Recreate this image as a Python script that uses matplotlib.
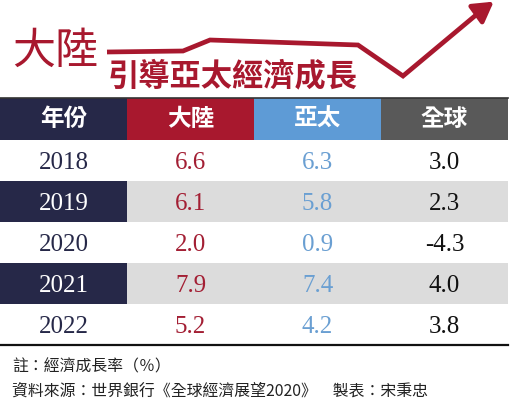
import matplotlib
matplotlib.use("Agg")
import matplotlib.pyplot as plt
from matplotlib.patches import Rectangle

plt.rcParams['font.family'] = ['Noto Sans CJK TC', 'DejaVu Sans']

# table content
columns = ["年份", "大陸", "亞太", "全球"]
years = ["2018", "2019", "2020", "2021", "2022"]
china = [6.6, 6.1, 2.0, 7.9, 5.2]
asia = [6.3, 5.8, 0.9, 7.4, 4.2]
world = [3.0, 2.3, -4.3, 4.0, 3.8]

title = "大陸"
subtitle = "引導亞太經濟成長"
note = "註：經濟成長率（％）"
source = "資料來源：世界銀行《全球經濟展望2020》　製表：宋秉忠"

# colours
RED = "#a8182e"
NAVY = "#262848"
BLUE = "#5e9bd6"
GREY = "#595959"
ROWGREY = "#dcdcdc"
head_colors = [NAVY, RED, BLUE, GREY]
val_colors = [None, "#a31f34", "#6a9fd2", "#111111"]

# decorative trend arrow path (pixels)
arrow_x = [107, 183, 210, 358, 403, 482]
arrow_y = [52, 51, 40, 45, 76, 10]

fig = plt.figure(figsize=(5.3, 4.0), dpi=100)
ax = fig.add_axes([0, 0, 1, 1])
ax.set_xlim(0, 530)
ax.set_ylim(400, 0)
ax.axis('off')

# title area
ax.text(12, 52, title, color=RED, fontsize=31, va='center', ha='left')
ax.text(108, 76, subtitle, color=RED, fontsize=22.5, fontweight='heavy',
        va='center', ha='left')
ax.plot(arrow_x, arrow_y, color=RED, lw=3.4, solid_joinstyle='miter',
        solid_capstyle='butt')
ax.annotate("", xy=(496, 0), xytext=(478, 13),
            arrowprops=dict(arrowstyle="-|>,head_length=1.2,head_width=0.7",
                            color=RED, lw=3.4))

# table geometry
left, width = 0, 508
col_w = width / len(columns)
top = 98
head_h = 42
row_h = 41

for i, (c, hc) in enumerate(zip(columns, head_colors)):
    ax.add_patch(Rectangle((left + i * col_w, top), col_w, head_h,
                           facecolor=hc, edgecolor='none'))
    ax.text(left + (i + 0.5) * col_w, top + head_h / 2, c, color='white',
            fontsize=17, fontweight='bold', ha='center', va='center')
ax.plot([left, left + width], [top, top], color="#333333", lw=1.2)

body_top = top + head_h
for r, yr in enumerate(years):
    y0 = body_top + r * row_h
    yc = y0 + row_h / 2 + 2.5
    shaded = r % 2 == 1
    if shaded:
        ax.add_patch(Rectangle((left, y0), width, row_h,
                               facecolor=ROWGREY, edgecolor='none'))
        ax.add_patch(Rectangle((left, y0), col_w, row_h,
                               facecolor=NAVY, edgecolor='none'))
    ax.text(left + 0.5 * col_w, yc, yr, family='Liberation Serif',
            fontsize=18, ha='center', va='center',
            color='white' if shaded else NAVY)
    for j, vals in enumerate([china, asia, world], start=1):
        ax.text(left + (j + 0.5) * col_w, yc, f"{vals[r]:.1f}",
                family='Liberation Serif', fontsize=18, ha='center',
                va='center', color=val_colors[j])

bottom = body_top + len(years) * row_h
ax.plot([left, left + width], [bottom, bottom], color="#111111", lw=1.6)

ax.text(12, 367, note, color="#222222", fontsize=11.4, ha='left', va='center')
ax.text(12, 391, source, color="#222222", fontsize=11.4, ha='left',
        va='center')

fig.savefig("out.png", dpi=100)
